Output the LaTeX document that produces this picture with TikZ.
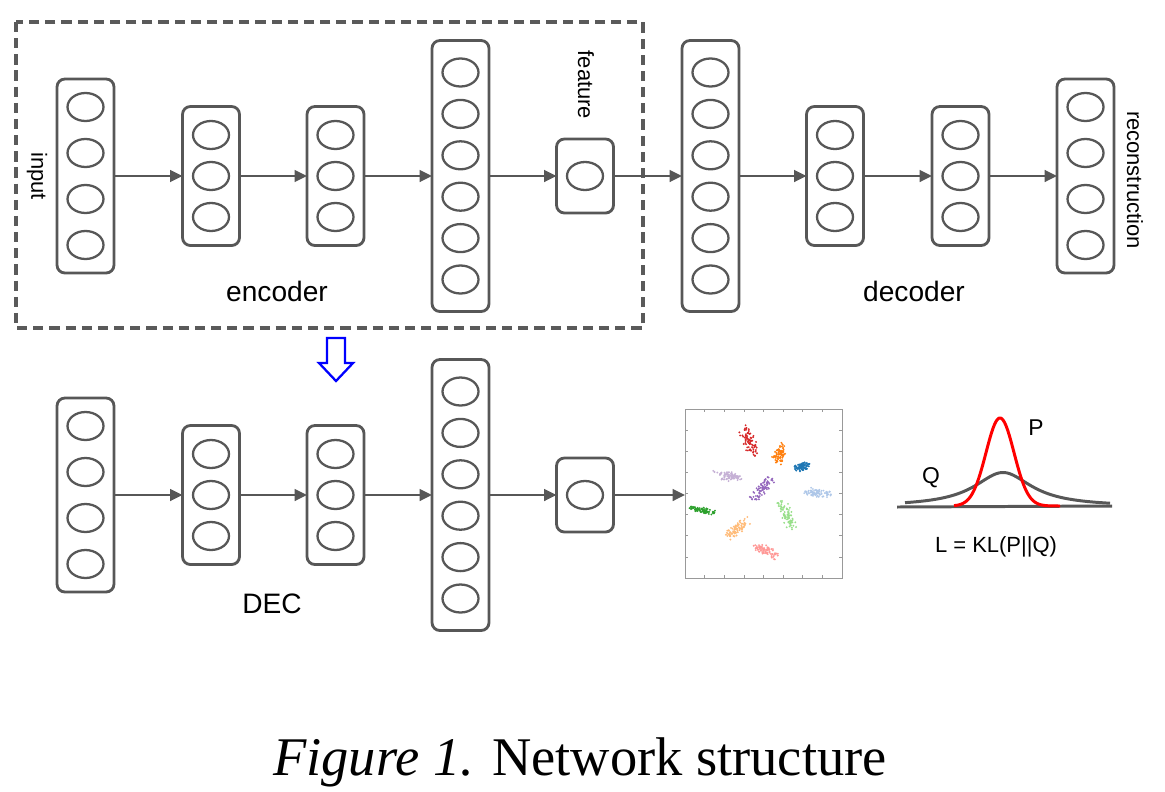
\documentclass[tikz,border=0pt]{standalone}
\usepackage{fontspec}
\setmainfont{Liberation Sans}
\newfontfamily\capfont{Liberation Serif}
\usetikzlibrary{arrows.meta}
\definecolor{lc}{HTML}{575757}
\definecolor{dashc}{HTML}{5a5a5a}
\definecolor{arrowblue}{HTML}{0000FF}
\definecolor{cA}{HTML}{d62728}
\definecolor{cB}{HTML}{ff7f0e}
\definecolor{cC}{HTML}{1f77b4}
\definecolor{cD}{HTML}{c5b0d5}
\definecolor{cE}{HTML}{9467bd}
\definecolor{cF}{HTML}{aec7e8}
\definecolor{cG}{HTML}{2ca02c}
\definecolor{cH}{HTML}{98df8a}
\definecolor{cI}{HTML}{ffbb78}
\definecolor{cJ}{HTML}{ff9896}
\tikzset{
  layerbox/.style={draw=lc, line width=1.6pt, rounded corners=4.5pt, minimum width=1.14cm, inner sep=0pt, outer sep=0pt},
  unit/.style={draw=lc, line width=1.3pt},
  conn/.style={draw=lc, line width=1.6pt, -{Triangle[length=7pt,width=6.5pt]}},
  lbl/.style={font=\fontsize{16}{19}\selectfont, inner sep=0pt},
  slbl/.style={font=\fontsize{12.5}{15}\selectfont, inner sep=0pt},
  dashbox/.style={draw=dashc, line width=1.8pt, dash pattern=on 5.8pt off 3.4pt},
  plotbox/.style={draw=gray!80, line width=0.5pt, minimum width=3.14cm, minimum height=3.38cm, inner sep=0pt, outer sep=0pt},
  tick/.style={draw=gray!80, line width=0.4pt},
  curveQ/.style={draw=lc, line width=1.7pt},
  curveP/.style={draw=red, line width=1.7pt},
}
\newcommand\mklayer[6]{%
  \node[layerbox, minimum height={#5*0.02cm}] (#1) at (#2,#3) {};
  \foreach \k in {1,...,#4}{%
    \draw[unit] (#2,{#3+(\k-(#4+1)/2)*#6}) ellipse [x radius=0.36cm, y radius=0.28cm];
  }%
}
\begin{document}
\begin{tikzpicture}[x=0.02cm,y=-0.02cm]
\useasboundingbox (0,0) rectangle (1165,791);
% encoder dashed frame
\draw[dashbox] (16,22) rectangle (643,328);
% top row
\mklayer{i1}{85.5}{176}{4}{194}{46}
\mklayer{e1}{211}{176}{3}{139}{41}
\mklayer{e2}{335.5}{176}{3}{139}{41}
\mklayer{e3}{460.5}{176}{6}{271}{41.4}
\mklayer{ft}{585}{176}{1}{74}{0}
\mklayer{d1}{710.5}{176}{6}{271}{41.4}
\mklayer{d2}{835}{176}{3}{139}{41}
\mklayer{d3}{960.5}{176}{3}{139}{41}
\mklayer{rc}{1085.5}{176}{4}{194}{46}
\draw[conn] (i1.east) -- (e1.west);
\draw[conn] (e1.east) -- (e2.west);
\draw[conn] (e2.east) -- (e3.west);
\draw[conn] (e3.east) -- (ft.west);
\draw[conn] (ft.east) -- (d1.west);
\draw[conn] (d1.east) -- (d2.west);
\draw[conn] (d2.east) -- (d3.west);
\draw[conn] (d3.east) -- (rc.west);
\node[slbl, rotate=-90] (inl) at (37,176) {input};
\node[slbl, rotate=-90] (ftl) at (586,85) {feature};
\node[slbl, rotate=-90] (rcl) at (1135,180) {reconstruction};
\node[lbl] (encl) at (277,291) {encoder};
\node[lbl] (decl) at (914,291) {decoder};
% blue hollow arrow
\draw[arrowblue, line width=1.3pt, line join=miter] (327,338) -- (345,338) -- (345,363) -- (353,363) -- (336,381) -- (319,363) -- (327,363) -- cycle;
% bottom row
\mklayer{b1}{85.5}{495}{4}{194}{46}
\mklayer{b2}{211}{495}{3}{139}{41}
\mklayer{b3}{335.5}{495}{3}{139}{41}
\mklayer{b4}{460.5}{495}{6}{271}{41.4}
\mklayer{bf}{585}{495}{1}{74}{0}
\node[plotbox] (sc) at (763.5,493.5) {};
\draw[conn] (b1.east) -- (b2.west);
\draw[conn] (b2.east) -- (b3.west);
\draw[conn] (b3.east) -- (b4.west);
\draw[conn] (b4.east) -- (bf.west);
\draw[conn] (bf.east) -- (bf.east -| sc.west);
\node[lbl] (decl2) at (272,604) {DEC};
% scatter ticks
\foreach \t in {704.6,724.3,743.9,763.5,783.1,802.8,822.4}{
  \draw[tick] (\t,409) -- (\t,412);
  \draw[tick] (\t,578) -- (\t,575);
}
\foreach \t in {430,451,472.4,493.5,514.6,535.8,556.9}{
  \draw[tick] (685,\t) -- (688,\t);
  \draw[tick] (842,\t) -- (839,\t);
}
% scatter clusters
\pgfmathsetseed{7}
\foreach \cx/\cy/\ax/\ay/\w/\c in {
  749/440/4.5/12/0.4/cA,
  780/454/-3.5/8/0.5/cB,
  802/467/6/-2/0.5/cC,
  728/476/12/1/0.3/cD,
  763/488/8.5/-10/0.35/cE,
  816/493/11/1.5/0.3/cF,
  702/510/10/2/0.25/cG,
  787/515/5.5/10.5/0.4/cH,
  738/528/9/-7.5/0.35/cI,
  766/551/9/4.5/0.4/cJ}{
  \foreach \k in {1,...,80}{
    \pgfmathsetmacro\u{(rand+rand)/2*1.45}
    \pgfmathsetmacro\v{(rand+rand)/2*1.45}
    \fill[\c] ({\cx+\u*\ax-\v*\ay*\w},{\cy+\u*\ay+\v*\ax*\w}) circle (0.6pt);
  }
}
% distributions
\draw[curveQ] (897,507) -- (1112,506);
\draw[curveQ] plot[domain=905:1110, samples=120, smooth] (\x,{506.5-34/(1+((\x-1003)/35)^2)});
\draw[curveP] plot[domain=954:1060, samples=120, smooth] (\x,{506-88*exp(-((\x-1000)/14)^2/2)});
\node[slbl, font=\fontsize{13}{15}\selectfont] (pl) at (1036,428) {P};
\node[slbl, font=\fontsize{13}{15}\selectfont] (ql) at (931,478) {Q};
\node[slbl] (kl) at (996,547) {L = KL(P||Q)};
% caption
\node[anchor=base, inner sep=0pt, font=\capfont\fontsize{31}{36}\selectfont] (cap) at (580,775) {\textit{Figure 1.} Network structure};
\end{tikzpicture}
\end{document}
